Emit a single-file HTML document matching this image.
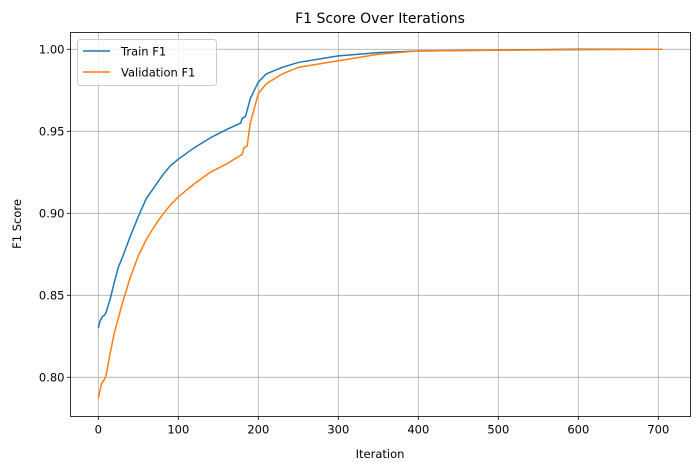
<!DOCTYPE html>
<html><head><meta charset="utf-8"><style>body{margin:0;background:#fff}svg{font-family:"DejaVu Sans","Liberation Sans",sans-serif}</style></head>
<body>
<svg id="c" width="700" height="470" xmlns="http://www.w3.org/2000/svg"></svg>
<script>
const trainIter=[0,2,5,8,10,15,20,25,30,40,50,60,70,80,90,100,120,140,160,178,180,184,190,200,210,230,250,300,350,400,500,600,705];
const trainF1=[0.830,0.834,0.837,0.838,0.840,0.848,0.858,0.867,0.873,0.886,0.898,0.909,0.916,0.923,0.929,0.933,0.940,0.946,0.951,0.955,0.958,0.959,0.970,0.980,0.985,0.989,0.992,0.996,0.998,0.999,0.9995,1.0,1.0];
const valIter=[0,2,4,8,10,15,20,25,30,40,50,60,70,80,90,100,120,140,160,180,182,186,190,200,210,230,250,300,350,400,500,705];
const valF1=[0.787,0.792,0.796,0.799,0.802,0.815,0.827,0.836,0.845,0.861,0.874,0.884,0.892,0.899,0.905,0.910,0.918,0.925,0.930,0.936,0.940,0.941,0.955,0.973,0.979,0.985,0.989,0.993,0.997,0.999,0.9995,1.0];
const xTicks=[0,100,200,300,400,500,600,700];
const yTicks=[0.80,0.85,0.90,0.95,1.00];
const NS="http://www.w3.org/2000/svg";
const svg=document.getElementById('c');
const L=70.5,R=690.5,T=32.5,B=416.5;
const sx=v=>98.3+v*0.8;
const sy=v=>377.3-(v-0.80)*1640;
function mk(t,a,txt){const e=document.createElementNS(NS,t);for(const k in a)e.setAttribute(k,a[k]);if(txt!==undefined)e.textContent=txt;svg.appendChild(e);return e;}
xTicks.forEach(v=>{const x=sx(v);
const g=mk('line',{x1:x,x2:x,y1:T,y2:B,stroke:'#b0b0b0','stroke-width':0.8});

mk('line',{x1:x,x2:x,y1:B,y2:B+3.5,stroke:'#000','stroke-width':0.8});
const t=mk('text',{x:x,y:B+17,'text-anchor':'middle','font-size':11.5,fill:'#000'},String(v));
});
yTicks.forEach(v=>{const y=sy(v);
const g=mk('line',{x1:L,x2:R,y1:y,y2:y,stroke:'#b0b0b0','stroke-width':0.8});

mk('line',{x1:L-3.5,x2:L,y1:y,y2:y,stroke:'#000','stroke-width':0.8});
const t=mk('text',{x:L-6,y:y+4,'text-anchor':'end','font-size':11.5,fill:'#000'},v.toFixed(2));
});
function line(xs,ys,c,n){const p=mk('polyline',{points:xs.map((x,i)=>sx(x)+','+sy(ys[i])).join(' '),fill:'none',stroke:c,'stroke-width':1.5});
}
line(trainIter,trainF1,'#1f77b4','train-f1-line');
line(valIter,valF1,'#ff7f0e','validation-f1-line');
const fr=mk('rect',{x:L,y:T,width:R-L,height:B-T,fill:'none',stroke:'#000','stroke-width':0.8});

const ti=mk('text',{x:380,y:23,'text-anchor':'middle','font-size':14,fill:'#000'},'F1 Score Over Iterations');

const xl=mk('text',{x:380,y:458,'text-anchor':'middle','font-size':11.5,fill:'#000'},'Iteration');

const yl=mk('text',{x:21,y:224,'text-anchor':'middle','font-size':11.5,fill:'#000',transform:'rotate(-90 21 224)'},'F1 Score');

const lg=mk('rect',{x:77.5,y:39.5,width:139,height:46,rx:3,fill:'#fff','fill-opacity':0.8,stroke:'#ccc','stroke-width':1});

[['Train F1','#1f77b4',51],['Validation F1','#ff7f0e',72]].forEach(([n,c,y])=>{
mk('line',{x1:83,x2:110,y1:y,y2:y,stroke:c,'stroke-width':1.5});
const t=mk('text',{x:121,y:y+4.5,'font-size':11.5,fill:'#000'},n);
});
</script>
</body></html>
